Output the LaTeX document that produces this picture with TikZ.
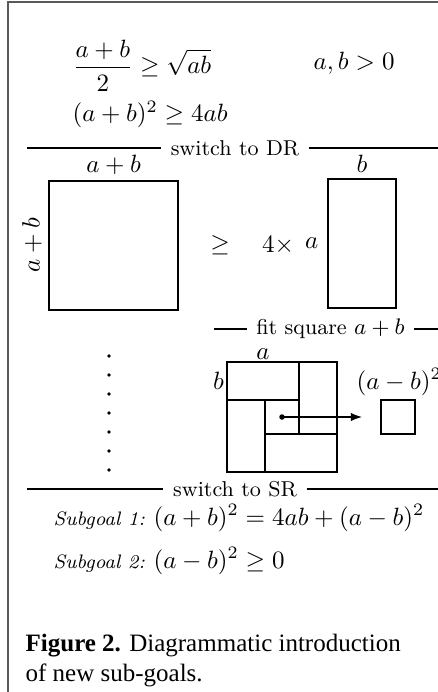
\documentclass[tikz,border=0pt]{standalone}
\usepackage{fontspec}
\newfontfamily\capfont{Liberation Serif}[Ligatures=TeX]
\usetikzlibrary{positioning,arrows.meta}

\tikzset{
  txt/.style={anchor=base west, inner sep=0pt},
  bigmath/.style={txt, font=\fontsize{10.4}{12.5}\selectfont},
  rulelabel/.style={font=\fontsize{8.6}{10}\selectfont, inner sep=3.6pt},
  areabox/.style={draw, inner sep=0pt},
  subgoal/.style={txt, font=\fontsize{7.8}{9}\selectfont\itshape},
  caption/.style={txt, font=\capfont\fontsize{10}{12}\selectfont},
}

\begin{document}
\begin{tikzpicture}[x=0.4pt, y=-0.4pt, line width=0.5pt]
  \useasboundingbox (0,0) rectangle (438,692);
  % frame
  \draw[black!65, line width=0.6pt] (8,692) -- (8,2) -- (438,2);

  % goal and assumption
  \node[bigmath] (goal) at (72,74) {$\displaystyle\frac{a+b}{2}\geq\sqrt{ab}$};
  \node[txt] (assume) at (313,70) {$a,b>0$};
  \node[bigmath] (goalsq) at (72,122) {$(a+b)^2\geq 4ab$};

  % switch to DR
  \node[rulelabel] (dr) at (235,148) {switch to DR};
  \coordinate (drL) at (27,148);
  \coordinate (drR) at (438,148);
  \draw (drL) -- (dr.west) (dr.east) -- (drR);

  % square against four rectangles
  \node[areabox, minimum width=51.6pt, minimum height=51.6pt] (big) at (113.5,245.5) {};
  \node[above, inner sep=2pt] (bigtop) at (big.north) {$a+b$};
  \node[rotate=90, anchor=south, inner sep=2.4pt] (bigside) at (big.west) {$a+b$};
  \node (geq) at (220,245) {$\geq$};
  \node (four) at (278,245) {$4\times$};
  \node[areabox, minimum width=27.2pt, minimum height=51.6pt] (rect) at (362,243.5) {};
  \node[above, inner sep=2pt] (recttop) at (rect.north) {$b$};
  \node[left] (rectside) at (rect.west) {$a$};

  % fit square
  \node[rulelabel] (fit) at (330.5,329) {fit square $a+b$};
  \coordinate (fitL) at (214,329);
  \coordinate (fitR) at (438,329);
  \draw (fitL) -- (fit.west) (fit.east) -- (fitR);

  % vertical dots
  \foreach \i in {0,...,6}
    \fill (109,356+19*\i) circle (0.75pt);

  % four rectangles fitted in the square
  \draw (227,362) rectangle (337,472);
  \draw (227,400) -- (299,400) (299,362) -- (299,434)
        (265,434) -- (337,434) (265,400) -- (265,472);
  \node[above, inner sep=0.8pt] (pa) at (263,362) {$a$};
  \node[left, inner sep=1pt] (pb) at (227,381) {$b$};
  \coordinate (mid) at (282,417);
  \coordinate (tip) at (362,417);
  \fill (mid) circle (1.1pt);
  \draw[-{Latex[length=4.5pt]}] (mid) -- (tip);
  \node[areabox, minimum size=13.6pt] (small) at (398,417) {};
  \node[txt] (diff) at (356,389) {$(a-b)^2$};

  % switch to SR
  \node[rulelabel] (sr) at (235,489) {switch to SR};
  \coordinate (srL) at (27,489);
  \coordinate (srR) at (438,489);
  \draw (srL) -- (sr.west) (sr.east) -- (srR);

  % subgoals
  \node[subgoal] (s1) at (53,525) {Subgoal 1:};
  \node[txt] (g1) at (153,525) {$(a+b)^2=4ab+(a-b)^2$};
  \node[subgoal] (s2) at (53,568) {Subgoal 2:};
  \node[txt] (g2) at (153,568) {$(a-b)^2\geq 0$};

  % caption
  \node[caption] (cap1) at (25,651) {\textbf{Figure 2.} Diagrammatic introduction};
  \node[caption] (cap2) at (25,681) {of new sub-goals.};
\end{tikzpicture}
\end{document}
